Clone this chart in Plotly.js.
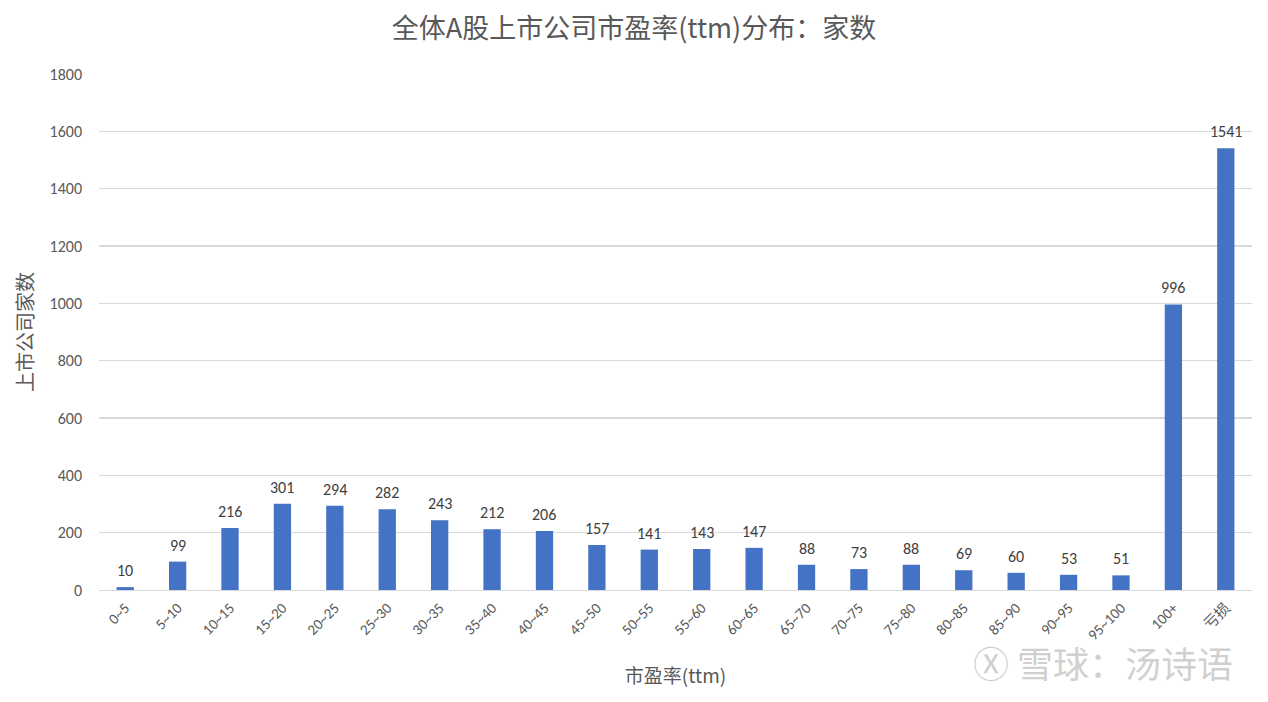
<!DOCTYPE html>
<html><head><meta charset="utf-8">
<script src="https://cdn.plot.ly/plotly-3.0.1.min.js"></script>
<style>html,body{margin:0;padding:0;background:#fff}#c{width:1268px;height:702px}</style>
</head><body><div id="c"></div>
<script>
const categories = ["0~5","5~10","10~15","15~20","20~25","25~30","30~35","35~40","40~45","45~50","50~55","55~60","60~65","65~70","70~75","75~80","80~85","85~90","90~95","95~100","100+","亏损"];
const counts = [10,99,216,301,294,282,243,212,206,157,141,143,147,88,73,88,69,60,53,51,996,1541];
const yTicks = [0,200,400,600,800,1000,1200,1400,1600,1800];

const FONT = "Calibri, Carlito, Lato, 'Noto Sans CJK SC', sans-serif";
const CJK = "'Noto Sans CJK SC', sans-serif";
const trace = {
  type: 'bar', x: categories, y: counts,
  marker: {color: '#4472C4'},
  hoverinfo: 'x+y'
};
const labelAnns = categories.map((c, i) => ({
  x: c, y: counts[i], xref: 'x', yref: 'y', text: String(counts[i]),
  showarrow: false, xanchor: 'center', yanchor: 'bottom', yshift: 5,
  font: {family: FONT, size: 16, color: '#404040'}
}));
const layout = {
  width: 1268, height: 702,
  margin: {l: 99, r: 16, t: 74, b: 112},
  paper_bgcolor: '#fff', plot_bgcolor: '#fff',
  font: {family: FONT, color: '#595959'},
  bargap: 0.67,
  showlegend: false,
  title: {text: '全体A股上市公司市盈率(ttm)分布：家数', x: 0.5, xanchor: 'center', y: 1 - 29/702, yref: 'container', yanchor: 'middle',
          font: {family: CJK, size: 27, color: '#595959'}},
  xaxis: {
    type: 'category', tickangle: -45, tickfont: {family: FONT, size: 15, color: '#595959'},
    showgrid: false, showline: true, linecolor: '#d9d9d9', linewidth: 1.3, ticks: '', ticklabelstandoff: 2,
    title: {text: '市盈率(ttm)', standoff: 26, font: {family: CJK, size: 19, color: '#595959'}}
  },
  yaxis: {
    range: [0, 1800], tickvals: yTicks, ticktext: yTicks.map(String),
    tickfont: {family: FONT, size: 16, color: '#595959'}, ticklabelstandoff: 16,
    showgrid: true, gridcolor: '#d9d9d9', gridwidth: 1.3, zeroline: false, ticks: '', ticklen: 0,
    title: {text: '上市公司家数', standoff: 10, font: {family: CJK, size: 20, color: '#595959'}}
  },
  annotations: labelAnns.concat([{
    text: 'Ⓧ 雪球：汤诗语', xref: 'paper', yref: 'paper', x: 0.985, y: -72/516, xanchor: 'right', yanchor: 'middle', showarrow: false,
    font: {family: CJK, size: 36, color: 'rgba(200,200,200,0.85)'}
  }])
};
Plotly.newPlot('c', [trace], layout, {displayModeBar: false, staticPlot: true});
</script></body></html>
